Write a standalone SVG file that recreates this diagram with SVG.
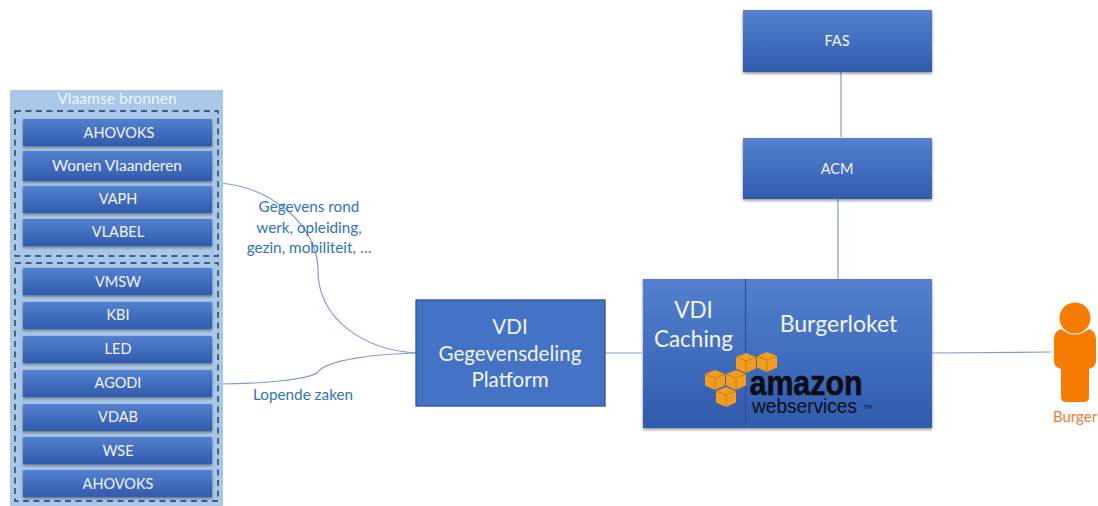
<svg xmlns="http://www.w3.org/2000/svg" width="1098" height="506" viewBox="0 0 1098 506">
<style>
text{font-family:Lato,"Liberation Sans",sans-serif;text-anchor:middle}
.b{fill:url(#g);filter:url(#s)}
.t{fill:#f2f6fc;font-size:14.5px}
.l{fill:#2e75b6;font-size:15.3px}
.big{fill:#f2f6fc;font-size:20.6px}
.c{fill:none;stroke:#7f9fcb;stroke-width:1.2}
.d{fill:none;stroke:#1f3a64;stroke-width:1.4;stroke-dasharray:6 4.5}
.cu{fill:#f29d1f}
.cl{fill:none;stroke:#b87410;stroke-width:.7}
.aws{fill:#0c0c14;font-family:"Liberation Sans",sans-serif}
</style>
<defs>
<linearGradient id="g" x1="0" y1="0" x2="0" y2="1"><stop offset="0" stop-color="#5480cf"/><stop offset="1" stop-color="#305bad"/></linearGradient>
<filter id="s" x="-5%" y="-10%" width="110%" height="125%"><feDropShadow dx="0" dy="1.5" stdDeviation="1.6" flood-color="#000" flood-opacity=".45"/></filter>
<g id="cube"><path class="cu" d="M0 -10L10 -6V5.500L0 10L-10 5.500V-6Z"/><path class="cl" d="M-10 -6L0 -2L10 -6M0 -2V10"/></g>
</defs>
<g id="connectors">
<path class="c" d="M219 183C270 186 318 225 318 270C318 320 365 350 416 353"/>
<path class="c" d="M219 384C255 384 310 380 318 372C326 360 375 354 416 353"/>
<path class="c" d="M605 353H642"/>
<path class="c" d="M841 72V137"/>
<path class="c" d="M838 199V279"/>
<path class="c" d="M932 353L1051 352"/>
</g>
<g id="vlaamse-bronnen">
<rect x="10" y="90" width="213" height="416" fill="#a9c8e9"/>
<text x="117" y="104" fill="#eef4fb" style="font-size:15.700px">Vlaamse bronnen</text>
<rect class="d" x="15" y="111" width="203" height="145"/>
<rect class="d" x="15" y="263" width="203" height="238"/>
</g>
<g id="n-ahovoks1"><rect class="b" x="23" y="119" width="189" height="27"/><text class="t" x="119" y="138">AHOVOKS</text></g>
<g id="n-wonen"><rect class="b" x="23" y="151" width="189" height="30"/><text class="t" x="117" y="171" style="font-size:15.500px">Wonen Vlaanderen</text></g>
<g id="n-vaph"><rect class="b" x="23" y="186" width="189" height="27"/><text class="t" x="118" y="204">VAPH</text></g>
<g id="n-vlabel"><rect class="b" x="23" y="219" width="189" height="27"/><text class="t" x="118" y="237">VLABEL</text></g>
<g id="n-vmsw"><rect class="b" x="23" y="268" width="189" height="27"/><text class="t" x="118" y="287">VMSW</text></g>
<g id="n-kbi"><rect class="b" x="23" y="302" width="189" height="27"/><text class="t" x="118" y="320">KBI</text></g>
<g id="n-led"><rect class="b" x="23" y="336" width="189" height="27"/><text class="t" x="118" y="354">LED</text></g>
<g id="n-agodi"><rect class="b" x="23" y="370" width="189" height="27"/><text class="t" x="118" y="388">AGODI</text></g>
<g id="n-vdab"><rect class="b" x="23" y="404" width="189" height="27"/><text class="t" x="118" y="422">VDAB</text></g>
<g id="n-wse"><rect class="b" x="23" y="437" width="189" height="27"/><text class="t" x="118" y="456">WSE</text></g>
<g id="n-ahovoks2"><rect class="b" x="23" y="470" width="189" height="27"/><text class="t" x="118" y="489">AHOVOKS</text></g>
<g id="labels">
<text class="l" x="309" y="212">Gegevens rond</text>
<text class="l" x="309" y="233">werk, opleiding,</text>
<text class="l" x="309" y="253">gezin, mobiliteit, …</text>
<text class="l" x="303" y="400">Lopende zaken</text>
</g>
<g id="n-platform"><rect x="416" y="300" width="189" height="106" fill="#4472c4" stroke="#2f528f" stroke-width="1.300"/>
<text class="big" x="510" y="334">VDI</text><text class="big" x="510" y="361">Gegevensdeling</text><text class="big" x="510" y="387">Platform</text></g>
<g id="n-fas"><rect class="b" x="743" y="10" width="189" height="62"/><text class="t" x="837" y="46">FAS</text></g>
<g id="n-acm"><rect class="b" x="743" y="138" width="189" height="61"/><text class="t" x="837" y="174">ACM</text></g>
<g id="n-burgerloket"><rect class="b" x="643" y="279" width="289" height="149"/>
<path d="M745.500 279V428" stroke="#2c4f8f" stroke-width="1.200"/>
<text class="big" style="font-size:22.500px"><tspan x="693.500" y="318">VDI</tspan><tspan x="693.500" y="347">Caching</tspan></text>
<text class="big" x="838.500" y="332" style="font-size:23px">Burgerloket</text>
<use href="#cube" x="746" y="363"/><use href="#cube" x="767" y="362"/><use href="#cube" x="715" y="380"/><use href="#cube" x="736" y="380"/><use href="#cube" x="726" y="397"/>
<text class="aws" x="806" y="395" font-size="35" font-weight="700" stroke="#0c0c14" stroke-width=".6" textLength="113" lengthAdjust="spacingAndGlyphs">amazon</text>
<text class="aws" x="804.500" y="413" font-size="20" textLength="105" lengthAdjust="spacingAndGlyphs">webservices</text>
<text class="aws" x="868" y="409" font-size="5.500">TM</text>
</g>
<g id="n-burger">
<circle cx="1075" cy="318" r="15.500" fill="#f57c00"/>
<path d="M1061 329Q1075 340 1089 329Q1096 331 1096 340V361Q1096 367 1089 369V397Q1089 402 1084 402H1066Q1061 402 1061 397V369Q1054 367 1054 361V340Q1054 331 1061 329Z" fill="#f57c00"/>
<text x="1075" y="422" fill="#ed7d31" font-size="15">Burger</text>
</g>
</svg>
